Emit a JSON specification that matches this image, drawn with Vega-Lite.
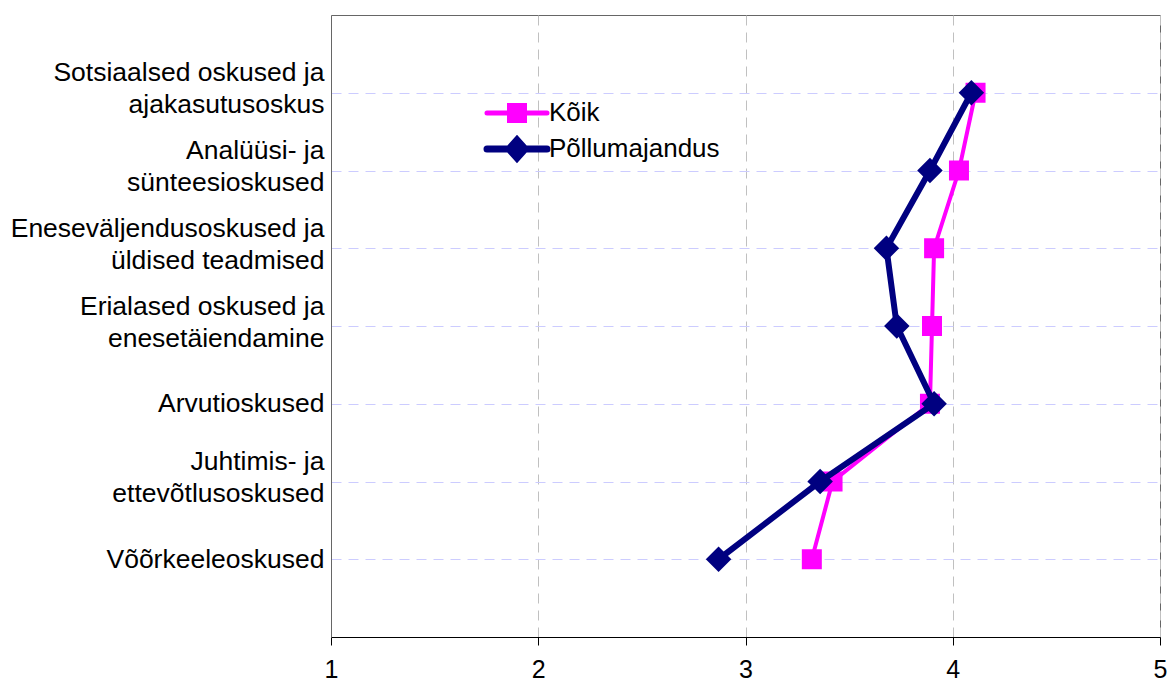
{
  "$schema": "https://vega.github.io/schema/vega-lite/v6.json",
  "autosize": {"type": "none"},
  "padding": {"left": 331, "top": 15, "right": 10, "bottom": 47},
  "width": 829,
  "height": 622,
  "background": "white",
  "config": {
    "view": {"stroke": "#666666", "strokeWidth": 1},
    "font": "Liberation Sans"
  },
  "data": {
    "values": [
      {"oskus": "Sotsiaalsed oskused ja\najakasutusoskus", "grupp": "Kõik", "hinnang": 4.11},
      {"oskus": "Analüüsi- ja\nsünteesioskused", "grupp": "Kõik", "hinnang": 4.03},
      {"oskus": "Eneseväljendusoskused ja\nüldised teadmised", "grupp": "Kõik", "hinnang": 3.91},
      {"oskus": "Erialased oskused ja\nenesetäiendamine", "grupp": "Kõik", "hinnang": 3.9},
      {"oskus": "Arvutioskused", "grupp": "Kõik", "hinnang": 3.89},
      {"oskus": "Juhtimis- ja\nettevõtlusoskused", "grupp": "Kõik", "hinnang": 3.42},
      {"oskus": "Võõrkeeleoskused", "grupp": "Kõik", "hinnang": 3.32},
      {"oskus": "Sotsiaalsed oskused ja\najakasutusoskus", "grupp": "Põllumajandus", "hinnang": 4.09},
      {"oskus": "Analüüsi- ja\nsünteesioskused", "grupp": "Põllumajandus", "hinnang": 3.89},
      {"oskus": "Eneseväljendusoskused ja\nüldised teadmised", "grupp": "Põllumajandus", "hinnang": 3.68},
      {"oskus": "Erialased oskused ja\nenesetäiendamine", "grupp": "Põllumajandus", "hinnang": 3.73},
      {"oskus": "Arvutioskused", "grupp": "Põllumajandus", "hinnang": 3.91},
      {"oskus": "Juhtimis- ja\nettevõtlusoskused", "grupp": "Põllumajandus", "hinnang": 3.36},
      {"oskus": "Võõrkeeleoskused", "grupp": "Põllumajandus", "hinnang": 2.87}
    ]
  },
  "encoding": {
    "x": {
      "field": "hinnang", "type": "quantitative",
      "scale": {"domain": [1, 5], "nice": false, "zero": false},
      "axis": {
        "title": null, "values": [1, 2, 3, 4, 5], "format": "d", "labelFlush": false,
        "grid": true, "gridColor": "#c0c0c0", "gridDash": [10, 7], "gridWidth": 1,
        "domainColor": "#000000", "tickColor": "#000000", "tickSize": 8,
        "labelFontSize": 25, "labelColor": "#000000", "labelPadding": 12,
        "labelFont": "Liberation Sans"
      }
    },
    "y": {
      "field": "oskus", "type": "nominal", "sort": null,
      "scale": {"padding": 1},
      "axis": {
        "title": null, "ticks": false, "domainColor": "#666666",
        "grid": true, "gridColor": "#ccccff", "gridDash": [10, 7], "gridWidth": 1,
        "labelFontSize": 26.5, "labelColor": "#000000", "labelPadding": 7,
        "labelFont": "Liberation Sans", "labelLineHeight": 32,
        "labelExpr": "split(datum.label, '\\n')", "labelLimit": 400,
        "labelOffset": {"condition": {"test": "indexof(datum.value, '\\n') >= 0", "value": -20}, "value": 0}
      }
    },
    "color": {
      "field": "grupp", "type": "nominal",
      "scale": {"domain": ["Kõik", "Põllumajandus"], "range": ["#FF00FF", "#000080"]},
      "legend": {
        "title": null, "orient": "none", "legendX": 173, "legendY": 85,
        "padding": 0, "symbolSize": 3600, "labelFontSize": 26, "labelFont": "Liberation Sans",
        "labelColor": "#000000", "labelOffset": 19, "rowPadding": -5, "labelLimit": 400,
        "encode": {
          "symbols": {
            "update": {
              "shape": {"signal": "datum.value === 'Kõik' ? 'M-1,0H1M-0.25,-0.25H0.25V0.25H-0.25Z' : 'M-1,0H1M-0.27,0L0,-0.3L0.27,0L0,0.3Z'"},
              "fill": {"signal": "datum.value === 'Kõik' ? '#FF00FF' : '#000080'"},
              "stroke": {"signal": "datum.value === 'Kõik' ? '#FF00FF' : '#000080'"},
              "strokeWidth": {"signal": "datum.value === 'Kõik' ? 5 : 7"},
              "strokeCap": {"value": "round"},
              "opacity": {"value": 1},
              "fillOpacity": {"value": 1}
            }
          }
        }
      }
    }
  },
  "layer": [
    {
      "transform": [{"filter": "datum.grupp === 'Kõik'"}],
      "mark": {"type": "line", "strokeWidth": 4}
    },
    {
      "transform": [{"filter": "datum.grupp === 'Kõik'"}],
      "mark": {"type": "point", "shape": "square", "size": 400, "filled": true, "opacity": 1}
    },
    {
      "transform": [{"filter": "datum.grupp === 'Põllumajandus'"}],
      "mark": {"type": "line", "strokeWidth": 6}
    },
    {
      "transform": [{"filter": "datum.grupp === 'Põllumajandus'"}],
      "mark": {"type": "point", "shape": "diamond", "size": 650, "filled": true, "opacity": 1}
    }
  ]
}
